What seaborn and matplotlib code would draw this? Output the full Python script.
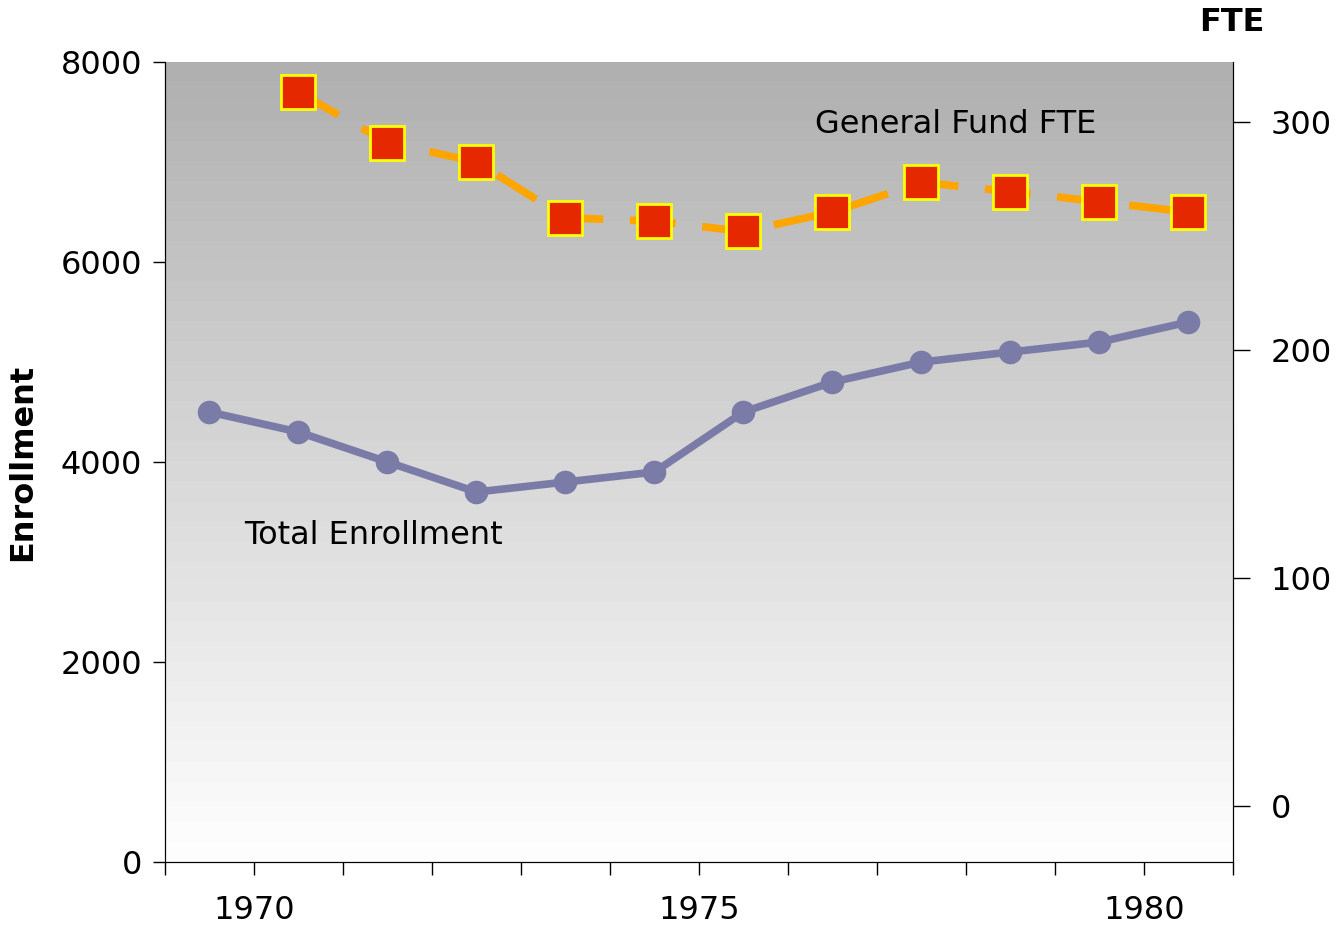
import numpy as np
import pandas as pd
import matplotlib
matplotlib.use("Agg")
import matplotlib.pyplot as plt
import seaborn as sns

# data
years = list(range(1970, 1982))
enrollment = [4500, 4300, 4000, 3700, 3800, 3900, 4500, 4800, 5000, 5100, 5200, 5400]
fte_years = list(range(1971, 1982))
fte = [313, 291, 282.5, 258, 256.5, 252, 260.5, 273.5, 269.5, 265, 260.5]
xtick_labels = ["1970", "1975", "1980"]

sns.set_style("ticks")
plt.rcParams["font.family"] = ["DejaVu Sans"]
plt.rcParams.update({
    "font.size": 23, "text.color": "black", "axes.labelcolor": "black",
    "xtick.color": "black", "ytick.color": "black", "axes.edgecolor": "black",
})

fig = plt.figure(figsize=(13.38, 9.27), dpi=100)
ax = fig.add_axes([0.1233, 0.0701, 0.9215 - 0.1233, 0.9331 - 0.0701])

# banded grey gradient background (dark at top, white at bottom)
n_bands = 40
shade = np.linspace(176, 253, n_bands)[:, None] / 255.0
ax.imshow(shade, cmap="gray", vmin=0, vmax=1, aspect="auto",
          extent=[0, 1, 0, 1], transform=ax.transAxes, zorder=0, interpolation="nearest")

df1 = pd.DataFrame({"x": np.array(years) - 0.5, "y": enrollment})
sns.lineplot(data=df1, x="x", y="y", ax=ax, color="#7B7BA8", lw=5.5, marker="o",
             markersize=17, markeredgewidth=0, zorder=3)
ax.set_ylim(0, 8000)
ax.set_xlim(1969, 1981)
ax.set_yticks([0, 2000, 4000, 6000, 8000])
ax.set_xticks(range(1969, 1982))
ax.set_xticklabels(["" if str(t) not in xtick_labels else str(t) for t in range(1969, 1982)])
ax.tick_params(axis="x", length=9, width=1, pad=15, labelsize=23)
ax.tick_params(axis="y", length=9, width=1, pad=7.5, labelsize=23)
ax.set_xlabel("")
ax.set_ylabel("Enrollment", fontsize=23, fontweight="bold", labelpad=16)
ax.spines["top"].set_visible(False)

ax2 = ax.twinx()
df2 = pd.DataFrame({"x": np.array(fte_years) - 0.5, "y": fte})
sns.lineplot(data=df2, x="x", y="y", ax=ax2, color="#FFA500", lw=5.5, dashes=False,
             marker="s", markersize=24, markerfacecolor="#E62800",
             markeredgecolor="#FFFF00", markeredgewidth=2, zorder=3)
ax2.get_lines()[0].set_dashes([6, 3.5])
ax2.set_ylim(-24.56, 326.3)
ax2.set_yticks([0, 100, 200, 300])
ax2.tick_params(axis="y", length=12, width=1, pad=15, labelsize=23)
ax2.set_ylabel("")
ax2.spines["top"].set_visible(False)
ax2.set_xlim(1969, 1981)

fig.text(0.9208, 0.976, "FTE", fontsize=23, fontweight="bold", ha="center", va="center")
ax.text(1969.89, 3270, "Total Enrollment", fontsize=23, ha="left", va="center", zorder=4)
ax2.text(1976.3, 299.1, "General Fund FTE", fontsize=23, ha="left", va="center", zorder=4)

fig.savefig("out.png", dpi=100)
